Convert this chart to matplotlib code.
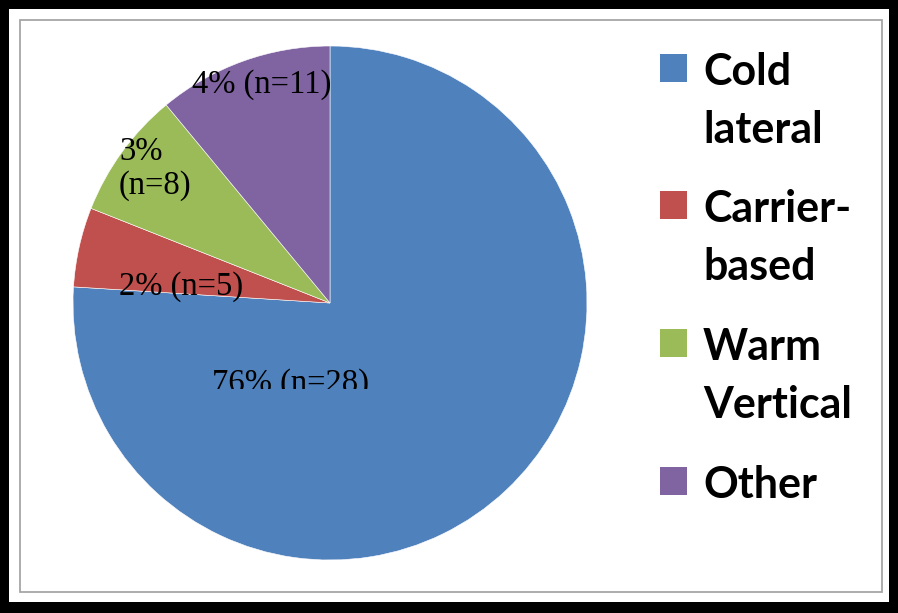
import matplotlib.pyplot as plt
from matplotlib.patches import Rectangle
from matplotlib.transforms import Bbox

# slice sizes (share of the pie, %) and labels as printed on the chart
categories = ['Cold\nlateral', 'Carrier-\nbased', 'Warm\nVertical', 'Other']
shares = [76, 5, 8, 11]
slice_labels = ['76% (n=28)', '2% (n=5)', '3%\n(n=8)', '4% (n=11)']
colors = ['#4F81BD', '#C0504D', '#9BBB59', '#8064A2']

W, H = 898, 613
fig = plt.figure(figsize=(W / 100, H / 100), dpi=100)
fig.patch.set_facecolor('black')

# white page inside the thick black border, thin grey chart frame
fig.patches.append(Rectangle((9 / W, 11 / H), (889 - 9) / W, (602 - 9) / H,
                             transform=fig.transFigure, facecolor='white',
                             edgecolor='none', zorder=-2))
fig.patches.append(Rectangle((20 / W, (H - 592) / H), (882 - 20) / W, (592 - 20) / H,
                             transform=fig.transFigure, facecolor='none',
                             edgecolor='#a6a6a6', linewidth=1.3, zorder=-1))

# pie: centre (330, 303) px, radius 257 px
cx, cy, r = 330, 303, 257
ax = fig.add_axes([(cx - r) / W, (H - cy - r) / H, 2 * r / W, 2 * r / H])
ax.patch.set_visible(False)
wedges, _ = ax.pie(shares, colors=colors, startangle=90, counterclock=False,
                   radius=1, wedgeprops=dict(edgecolor='white', linewidth=0.4))
ax.set_xlim(-1, 1)
ax.set_ylim(-1, 1)
ax.set_aspect('equal')
ax.axis('off')

# data labels (pixel positions converted to pie coords)
def px(x, y):
    return (x - cx) / r, (cy - y) / r

# (x, baseline of last line, ha)
lab_pos = [(291, 392, 'center'), (119, 295, 'left'), (119, 194, 'left'), (192, 93, 'left')]
for (x, y, ha), txt in zip(lab_pos, slice_labels):
    t = ax.text(*px(x, y), txt, ha=ha, va='baseline', fontsize=23.5,
                family='Liberation Serif', color='black', linespacing=1.15)
    if txt.startswith('76'):
        # label is cut off at its lower part in the original
        t.set_clip_box(Bbox.from_extents(0, H - 389, W, H))
        t.set_clip_on(True)

# legend, drawn by hand
y0 = 85
for i, (lab, c) in enumerate(zip(categories, colors)):
    base = y0 + i * 137.5
    fig.patches.append(Rectangle((660 / W, (H - base + 3) / H), 27 / W, 28 / H,
                                 transform=fig.transFigure, facecolor=c,
                                 edgecolor='none'))
    lines = lab.split('\n')
    for j, line in enumerate(lines):
        fig.text(703 / W, (H - base - 58 * j) / H, line, ha='left', va='baseline',
                 fontsize=31, fontweight='bold', family='Lato', color='black')

fig.savefig('out.png', dpi=100, facecolor=fig.get_facecolor())
